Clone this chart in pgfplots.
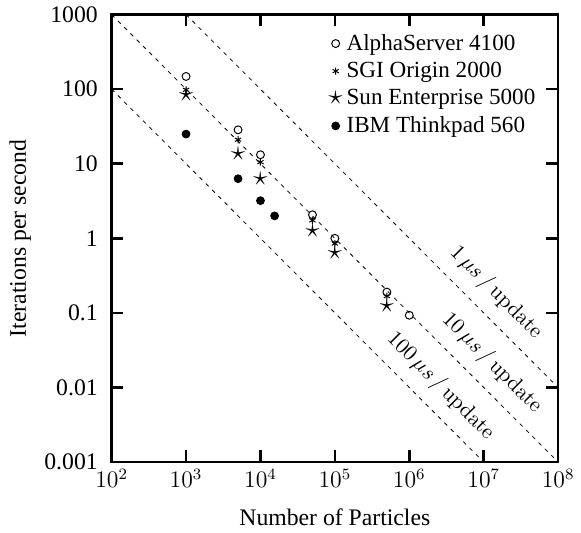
\documentclass[border=0pt]{standalone}
\usepackage[no-math]{fontspec}
\setmainfont{Liberation Serif}
\usepackage{pgfplots}
\pgfplotsset{compat=1.18}
\begin{document}
\begin{tikzpicture}[font=\fontsize{12}{14}\selectfont]
\begin{axis}[
  name=main,
  scale only axis,
  clip=false,
  width=226pt, height=226.5pt,
  xmode=log, ymode=log,
  xmin=1e2, xmax=1e8, ymin=1e-3, ymax=1e3,
  xtick={1e2,1e3,1e4,1e5,1e6,1e7,1e8},
  ytick={1e-3,1e-2,1e-1,1,1e1,1e2,1e3},
  yticklabels={0.001,0.01,0.1,1,10,100,1000},
  xminorticks=false, yminorticks=false,
  tick align=inside,
  major tick length=6pt,
  xtick style={draw=black, line width=1.3pt},
  ytick style={draw=black, line width=1.3pt},
  axis line style={line width=1.3pt},
  yticklabel style={xshift=-3.5pt},
  xlabel={Number of Particles},
  ylabel={Iterations per second},
  xlabel style={yshift=-4pt},
  legend style={at={(0.972,0.975)}, anchor=north east, draw=none, fill=none,
    font=\fontsize{11.7}{13.5}\selectfont, row sep=0.5pt},
  legend cell align=left,
  legend image code/.code={\draw[#1, mark repeat=2, mark phase=2] plot coordinates {(0cm,0cm)(0.05cm,0cm)(0.1cm,0cm)};},
]
\addplot[only marks, mark=o, mark size=2pt, mark options={line width=0.5pt}] coordinates {
 (1e3,148) (5e3,28.5) (1e4,13.2) (5e4,2.07) (1e5,1.0) (5e5,0.19) (1e6,0.093)};
\addlegendentry{AlphaServer 4100}
\addplot[only marks, mark=asterisk, mark size=1.8pt, mark options={line width=0.5pt}] coordinates {
 (1e3,98) (5e3,21) (1e4,10.5) (5e4,1.74) (1e5,0.85) (5e5,0.168)};
\addlegendentry{SGI Origin 2000}
\addplot[only marks, mark=text, text mark={\fontsize{15}{15}\selectfont$\star$}] coordinates {
 (1e3,85) (5e3,13.7) (1e4,6.3) (5e4,1.24) (1e5,0.64) (5e5,0.124)};
\addlegendentry{Sun Enterprise 5000}
\addplot[only marks, mark=*, mark size=2pt] coordinates {
 (1e3,25) (5e3,6.3) (1e4,3.2) (1.55e4,2.0)};
\addlegendentry{IBM Thinkpad 560}
\addplot[forget plot, black, line width=0.4pt, dash pattern=on 2pt off 2.5pt] coordinates {(1e3,1e3) (1e8,1e-2)}
  node[pos=0.789, sloped, above=6pt, inner sep=0pt, font=\fontsize{10.5}{12}\selectfont] {$1\,\mu s\,/\,\mathrm{update}$};
\addplot[forget plot, black, line width=0.4pt, dash pattern=on 2pt off 2.5pt] coordinates {(1e2,1e3) (1e8,1e-3)}
  node[pos=0.815, sloped, above=6pt, inner sep=0pt, font=\fontsize{10.5}{12}\selectfont] {$10\,\mu s\,/\,\mathrm{update}$};
\addplot[forget plot, black, line width=0.4pt, dash pattern=on 2pt off 2.5pt] coordinates {(1e2,1e2) (1e7,1e-3)}
  node[pos=0.84, sloped, above=6pt, inner sep=0pt, font=\fontsize{10.5}{12}\selectfont] {$100\,\mu s\,/\,\mathrm{update}$};
\pgfplotsinvokeforeach{3,4,5,6,7}{
  \draw[line width=1.3pt] (axis cs:1e#1,1e-3) -- (axis cs:1e#1,1.442e-3);
  \draw[line width=1.3pt] (axis cs:1e#1,1e3) -- (axis cs:1e#1,693);
}
\pgfplotsinvokeforeach{-2,-1,0,1,2}{
  \draw[line width=1.3pt] (axis cs:1e2,1e#1) -- (axis cs:144.2,1e#1);
  \draw[line width=1.3pt] (axis cs:1e8,1e#1) -- (axis cs:6.93e7,1e#1);
}
\end{axis}
\path (main.south west) ++(-56.5pt,-35pt) coordinate (padA);
\path (main.north west) ++(0,7pt) coordinate (padB);
\end{tikzpicture}
\end{document}
